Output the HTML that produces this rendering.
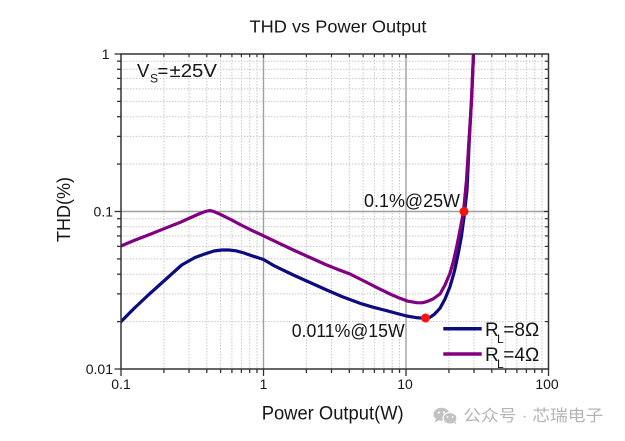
<!DOCTYPE html>
<html>
<head>
<meta charset="utf-8">
<style>
  html,body{margin:0;padding:0;background:#fff;}
  svg{display:block;}
  text{font-family:"Liberation Sans","Noto Sans CJK SC",sans-serif;fill:#161616;}
</style>
</head>
<body>
<svg width="625" height="441" viewBox="0 0 625 441" xmlns="http://www.w3.org/2000/svg">
  <defs>
    <clipPath id="plot"><rect x="121" y="54" width="427.5" height="315"/></clipPath>
  </defs>
  <rect width="625" height="441" fill="#fff"/>

  <!-- minor gridlines vertical -->
  <g stroke="#c8c8c8" stroke-width="1" stroke-dasharray="1.5 1.5">
    <line x1="163.9" y1="54" x2="163.9" y2="369"/>
    <line x1="189.0" y1="54" x2="189.0" y2="369"/>
    <line x1="206.8" y1="54" x2="206.8" y2="369"/>
    <line x1="220.6" y1="54" x2="220.6" y2="369"/>
    <line x1="231.9" y1="54" x2="231.9" y2="369"/>
    <line x1="241.4" y1="54" x2="241.4" y2="369"/>
    <line x1="249.7" y1="54" x2="249.7" y2="369"/>
    <line x1="257.0" y1="54" x2="257.0" y2="369"/>
    <line x1="306.4" y1="54" x2="306.4" y2="369"/>
    <line x1="331.5" y1="54" x2="331.5" y2="369"/>
    <line x1="349.3" y1="54" x2="349.3" y2="369"/>
    <line x1="363.1" y1="54" x2="363.1" y2="369"/>
    <line x1="374.4" y1="54" x2="374.4" y2="369"/>
    <line x1="383.9" y1="54" x2="383.9" y2="369"/>
    <line x1="392.2" y1="54" x2="392.2" y2="369"/>
    <line x1="399.5" y1="54" x2="399.5" y2="369"/>
    <line x1="448.9" y1="54" x2="448.9" y2="369"/>
    <line x1="474.0" y1="54" x2="474.0" y2="369"/>
    <line x1="491.8" y1="54" x2="491.8" y2="369"/>
    <line x1="505.6" y1="54" x2="505.6" y2="369"/>
    <line x1="516.9" y1="54" x2="516.9" y2="369"/>
    <line x1="526.4" y1="54" x2="526.4" y2="369"/>
    <line x1="534.7" y1="54" x2="534.7" y2="369"/>
    <line x1="542.0" y1="54" x2="542.0" y2="369"/>
  </g>
  <!-- minor gridlines horizontal -->
  <g stroke="#c8c8c8" stroke-width="1" stroke-dasharray="1.5 1.5">
    <line x1="121" y1="164.1" x2="548.5" y2="164.1"/>
    <line x1="121" y1="136.4" x2="548.5" y2="136.4"/>
    <line x1="121" y1="116.7" x2="548.5" y2="116.7"/>
    <line x1="121" y1="101.4" x2="548.5" y2="101.4"/>
    <line x1="121" y1="88.9" x2="548.5" y2="88.9"/>
    <line x1="121" y1="78.4" x2="548.5" y2="78.4"/>
    <line x1="121" y1="69.3" x2="548.5" y2="69.3"/>
    <line x1="121" y1="61.2" x2="548.5" y2="61.2"/>
    <line x1="121" y1="321.6" x2="548.5" y2="321.6"/>
    <line x1="121" y1="293.9" x2="548.5" y2="293.9"/>
    <line x1="121" y1="274.2" x2="548.5" y2="274.2"/>
    <line x1="121" y1="258.9" x2="548.5" y2="258.9"/>
    <line x1="121" y1="246.4" x2="548.5" y2="246.4"/>
    <line x1="121" y1="235.9" x2="548.5" y2="235.9"/>
    <line x1="121" y1="226.8" x2="548.5" y2="226.8"/>
    <line x1="121" y1="218.7" x2="548.5" y2="218.7"/>
  </g>
  <!-- major gridlines -->
  <g stroke="#a0a0a0" stroke-width="1.4">
    <line x1="263.5" y1="54" x2="263.5" y2="369"/>
    <line x1="406" y1="54" x2="406" y2="369"/>
    <line x1="121" y1="211.5" x2="548.5" y2="211.5"/>
  </g>

  <!-- curves -->
  <g clip-path="url(#plot)" fill="none" stroke-width="3.2" stroke-linejoin="round" stroke-linecap="round">
    <polyline stroke="#0c0c80" points="121,321.6 134,308.5 148.3,295 165,280 181.7,265 195,257.5 206.7,253.3 214,251 221.7,250 229,250 236,250.8 244,253 251.7,255.7 263.5,259.5 275,266.2 293.3,275 310,282.5 326.7,290 343,297 360,303.3 373,307.2 386.7,310.7 397,313.5 406.7,316 416,317.6 425,318.3 430,317.3 434,314.6 440,308.3 445,299 450,286.7 454.5,271 458.3,253.3 461.5,236 464.3,215 467,190 469.3,140 471.5,100 473.5,54 474.5,40"/>
    <polyline stroke="#800080" points="121,246 134,240.5 148.3,235 165,228.3 181.7,221.7 192,217 200,213.5 206,211.3 210,210.6 214,211.6 220,214.2 231.7,220 241,225 251.7,230.3 263.5,235.8 275,241.3 293.3,250 310,257.5 326.7,265 338,269.5 350,274 364,281 378.3,288.3 390,294 400,298.3 408,301.2 416.7,302.7 422,302.8 426.7,301.7 433,299 440,294 445,285 450,273.3 453.5,261 456.7,246.7 460,230 463.5,211.5 466.5,180 469,140 471.5,100 473.5,54 474.5,40"/>
  </g>

  <!-- red points -->
  <circle cx="425.5" cy="318" r="4.5" fill="#ff1010"/>
  <circle cx="464" cy="211.5" r="4.5" fill="#ff1010"/>

  <!-- axis frame -->
  <rect x="121" y="54" width="427.5" height="315" fill="none" stroke="#333" stroke-width="1.5"/>

  <!-- left ticks (outside) -->
  <g stroke="#333" stroke-width="1.3">
    <line x1="114.5" y1="54" x2="121" y2="54"/>
    <line x1="114.5" y1="211.5" x2="121" y2="211.5"/>
    <line x1="114.5" y1="369" x2="121" y2="369"/>
    <line x1="117" y1="164.1" x2="121" y2="164.1"/>
    <line x1="117" y1="136.4" x2="121" y2="136.4"/>
    <line x1="117" y1="116.7" x2="121" y2="116.7"/>
    <line x1="117" y1="101.4" x2="121" y2="101.4"/>
    <line x1="117" y1="88.9" x2="121" y2="88.9"/>
    <line x1="117" y1="78.4" x2="121" y2="78.4"/>
    <line x1="117" y1="69.3" x2="121" y2="69.3"/>
    <line x1="117" y1="61.2" x2="121" y2="61.2"/>
    <line x1="117" y1="321.6" x2="121" y2="321.6"/>
    <line x1="117" y1="293.9" x2="121" y2="293.9"/>
    <line x1="117" y1="274.2" x2="121" y2="274.2"/>
    <line x1="117" y1="258.9" x2="121" y2="258.9"/>
    <line x1="117" y1="246.4" x2="121" y2="246.4"/>
    <line x1="117" y1="235.9" x2="121" y2="235.9"/>
    <line x1="117" y1="226.8" x2="121" y2="226.8"/>
    <line x1="117" y1="218.7" x2="121" y2="218.7"/>
  </g>
  <!-- right ticks (inside) -->
  <g stroke="#333" stroke-width="1.2">
    <line x1="544" y1="211.5" x2="548.5" y2="211.5"/>
    <line x1="545" y1="164.1" x2="548.5" y2="164.1"/>
    <line x1="545" y1="136.4" x2="548.5" y2="136.4"/>
    <line x1="545" y1="116.7" x2="548.5" y2="116.7"/>
    <line x1="545" y1="101.4" x2="548.5" y2="101.4"/>
    <line x1="545" y1="88.9" x2="548.5" y2="88.9"/>
    <line x1="545" y1="78.4" x2="548.5" y2="78.4"/>
    <line x1="545" y1="69.3" x2="548.5" y2="69.3"/>
    <line x1="545" y1="61.2" x2="548.5" y2="61.2"/>
    <line x1="545" y1="321.6" x2="548.5" y2="321.6"/>
    <line x1="545" y1="293.9" x2="548.5" y2="293.9"/>
    <line x1="545" y1="274.2" x2="548.5" y2="274.2"/>
    <line x1="545" y1="258.9" x2="548.5" y2="258.9"/>
    <line x1="545" y1="246.4" x2="548.5" y2="246.4"/>
    <line x1="545" y1="235.9" x2="548.5" y2="235.9"/>
    <line x1="545" y1="226.8" x2="548.5" y2="226.8"/>
    <line x1="545" y1="218.7" x2="548.5" y2="218.7"/>
  </g>
  <!-- bottom ticks (outside) -->
  <g stroke="#333" stroke-width="1.3">
    <line x1="121" y1="369" x2="121" y2="376"/>
    <line x1="263.5" y1="369" x2="263.5" y2="376"/>
    <line x1="406" y1="369" x2="406" y2="376"/>
    <line x1="548.5" y1="369" x2="548.5" y2="376"/>
    <line x1="163.9" y1="369" x2="163.9" y2="373"/>
    <line x1="189.0" y1="369" x2="189.0" y2="373"/>
    <line x1="206.8" y1="369" x2="206.8" y2="373"/>
    <line x1="220.6" y1="369" x2="220.6" y2="373"/>
    <line x1="231.9" y1="369" x2="231.9" y2="373"/>
    <line x1="241.4" y1="369" x2="241.4" y2="373"/>
    <line x1="249.7" y1="369" x2="249.7" y2="373"/>
    <line x1="257.0" y1="369" x2="257.0" y2="373"/>
    <line x1="306.4" y1="369" x2="306.4" y2="373"/>
    <line x1="331.5" y1="369" x2="331.5" y2="373"/>
    <line x1="349.3" y1="369" x2="349.3" y2="373"/>
    <line x1="363.1" y1="369" x2="363.1" y2="373"/>
    <line x1="374.4" y1="369" x2="374.4" y2="373"/>
    <line x1="383.9" y1="369" x2="383.9" y2="373"/>
    <line x1="392.2" y1="369" x2="392.2" y2="373"/>
    <line x1="399.5" y1="369" x2="399.5" y2="373"/>
    <line x1="448.9" y1="369" x2="448.9" y2="373"/>
    <line x1="474.0" y1="369" x2="474.0" y2="373"/>
    <line x1="491.8" y1="369" x2="491.8" y2="373"/>
    <line x1="505.6" y1="369" x2="505.6" y2="373"/>
    <line x1="516.9" y1="369" x2="516.9" y2="373"/>
    <line x1="526.4" y1="369" x2="526.4" y2="373"/>
    <line x1="534.7" y1="369" x2="534.7" y2="373"/>
    <line x1="542.0" y1="369" x2="542.0" y2="373"/>
  </g>
  <!-- top ticks (inside) -->
  <g stroke="#333" stroke-width="1.2">
    <line x1="263.5" y1="54" x2="263.5" y2="58"/>
    <line x1="406" y1="54" x2="406" y2="58"/>
    <line x1="163.9" y1="54" x2="163.9" y2="57"/>
    <line x1="189.0" y1="54" x2="189.0" y2="57"/>
    <line x1="206.8" y1="54" x2="206.8" y2="57"/>
    <line x1="220.6" y1="54" x2="220.6" y2="57"/>
    <line x1="231.9" y1="54" x2="231.9" y2="57"/>
    <line x1="241.4" y1="54" x2="241.4" y2="57"/>
    <line x1="249.7" y1="54" x2="249.7" y2="57"/>
    <line x1="257.0" y1="54" x2="257.0" y2="57"/>
    <line x1="306.4" y1="54" x2="306.4" y2="57"/>
    <line x1="331.5" y1="54" x2="331.5" y2="57"/>
    <line x1="349.3" y1="54" x2="349.3" y2="57"/>
    <line x1="363.1" y1="54" x2="363.1" y2="57"/>
    <line x1="374.4" y1="54" x2="374.4" y2="57"/>
    <line x1="383.9" y1="54" x2="383.9" y2="57"/>
    <line x1="392.2" y1="54" x2="392.2" y2="57"/>
    <line x1="399.5" y1="54" x2="399.5" y2="57"/>
    <line x1="448.9" y1="54" x2="448.9" y2="57"/>
    <line x1="474.0" y1="54" x2="474.0" y2="57"/>
    <line x1="491.8" y1="54" x2="491.8" y2="57"/>
    <line x1="505.6" y1="54" x2="505.6" y2="57"/>
    <line x1="516.9" y1="54" x2="516.9" y2="57"/>
    <line x1="526.4" y1="54" x2="526.4" y2="57"/>
    <line x1="534.7" y1="54" x2="534.7" y2="57"/>
    <line x1="542.0" y1="54" x2="542.0" y2="57"/>
  </g>

  <!-- title -->
  <text x="249.5" y="32.7" font-size="17.5" textLength="177" lengthAdjust="spacingAndGlyphs">THD vs Power Output</text>

  <!-- y tick labels -->
  <text x="109.5" y="59" font-size="14" text-anchor="end">1</text>
  <text x="113" y="216.5" font-size="14" text-anchor="end">0.1</text>
  <text x="113" y="374" font-size="14" text-anchor="end">0.01</text>

  <!-- x tick labels -->
  <text x="121" y="389" font-size="14" text-anchor="middle">0.1</text>
  <text x="263.5" y="389" font-size="14" text-anchor="middle">1</text>
  <text x="405" y="389" font-size="14" text-anchor="middle">10</text>
  <text x="547" y="389" font-size="14" text-anchor="middle">100</text>

  <!-- axis titles -->
  <text x="261.7" y="419.5" font-size="19" textLength="142" lengthAdjust="spacingAndGlyphs">Power Output(W)</text>
  <text transform="translate(70,242) rotate(-90)" font-size="18.5" textLength="65" lengthAdjust="spacingAndGlyphs">THD(%)</text>

  <!-- Vs annotation -->
  <text x="137" y="77" font-size="18.5">V</text>
  <text x="150" y="82.5" font-size="12">S</text>
  <text x="157.5" y="77" font-size="18.5">=</text>
  <text x="169.5" y="77" font-size="18.5" textLength="47.5" lengthAdjust="spacingAndGlyphs">±25V</text>

  <!-- point annotations -->
  <text x="364" y="207" font-size="18.5" textLength="96" lengthAdjust="spacingAndGlyphs">0.1%@25W</text>
  <text x="291.7" y="337" font-size="18.5" textLength="113" lengthAdjust="spacingAndGlyphs">0.011%@15W</text>

  <!-- legend -->
  <line x1="443.3" y1="328.7" x2="481.7" y2="328.7" stroke="#0c0c80" stroke-width="3.5"/>
  <text x="485" y="336" font-size="19">R</text>
  <text x="497" y="343" font-size="12">L</text>
  <text x="503.3" y="336" font-size="19" textLength="36" lengthAdjust="spacingAndGlyphs">=8Ω</text>

  <line x1="443.3" y1="354" x2="481.7" y2="354" stroke="#800080" stroke-width="3.5"/>
  <text x="485" y="361" font-size="19">R</text>
  <text x="497" y="368" font-size="12">L</text>
  <text x="503.3" y="361" font-size="19" textLength="36" lengthAdjust="spacingAndGlyphs">=4Ω</text>

  <!-- watermark -->
  <g>
    <ellipse cx="441.5" cy="414.3" rx="8" ry="6.5" fill="#c2c2c2"/>
    <path d="M436 419 L434.5 422.5 L439.5 420 Z" fill="#c2c2c2"/>
    <ellipse cx="450" cy="418.3" rx="7" ry="5.8" fill="#c2c2c2" stroke="#fff" stroke-width="1.2"/>
    <path d="M454 422.5 L456 424.5 L455.5 421 Z" fill="#c2c2c2"/>
    <circle cx="438.8" cy="412.5" r="1.1" fill="#fff"/>
    <circle cx="444" cy="412.5" r="1.1" fill="#fff"/>
    <circle cx="447.5" cy="417" r="0.9" fill="#fff"/>
    <circle cx="452.5" cy="417" r="0.9" fill="#fff"/>
  </g>
  <text x="463.3" y="420.8" font-size="16" style="fill:#b4b4b4;font-family:'Liberation Sans','Noto Sans CJK SC',sans-serif" textLength="140" lengthAdjust="spacingAndGlyphs">公众号 · 芯瑞电子</text>
</svg>
</body>
</html>
